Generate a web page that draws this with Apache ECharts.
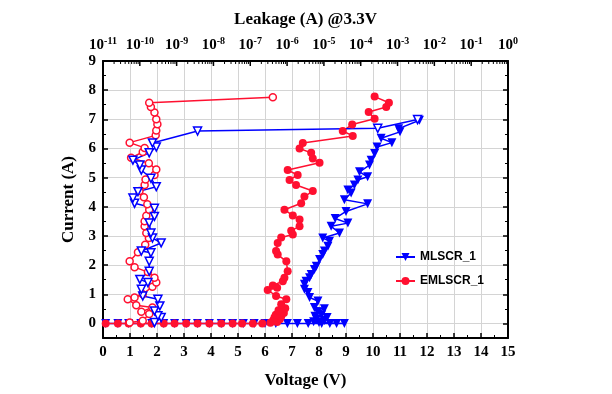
<!DOCTYPE html>
<html>
<head>
<meta charset="utf-8">
<script src="https://cdn.jsdelivr.net/npm/echarts@6/dist/echarts.min.js"></script>
<style>html,body{margin:0;padding:0;background:#fff}#c{width:612px;height:394px}</style>
</head>
<body>
<div id="c"></div>
<script>
// ---- data ----
const mlscrV = [0.1,0.55,0.95,1.4,1.8,2.25,2.65,3.08,3.5,3.94,4.38,4.8,5.2,5.6,6.0,6.4,6.83,7.2,7.6,8.1,8.4,8.65,8.94,
  8.0,7.8,8.2,7.9,8.3,7.85,8.1,7.95,8.2,7.83,7.96,7.65,7.59,7.46,7.46,7.52,7.65,7.71,7.83,7.9,8.02,8.14,8.2,8.33,8.39,8.14,8.76,8.45,9.07,8.6,9.0,9.8,8.94,9.19,9.07,9.31,9.44,9.8,9.5,9.87,9.93,10.06,10.15,10.7,10.3,11.0,10.95,11.72];
const mlscrI = [0,0,0,0,0,0,0,0,0,0,0,0,0,0,0,0,0,0,0,0,0,0,0,
  0.03,0.06,0.1,0.15,0.2,0.25,0.3,0.4,0.5,0.55,0.77,0.89,1.06,1.17,1.34,1.45,1.57,1.68,1.85,1.96,2.19,2.36,2.48,2.65,2.82,2.93,3.1,3.33,3.44,3.6,3.84,4.1,4.24,4.47,4.58,4.75,4.92,5.03,5.2,5.43,5.6,5.83,6.05,6.2,6.35,6.57,6.68,6.97];

const emlscrV = [0.1,0.55,0.95,1.4,1.8,2.25,2.65,3.08,3.5,3.94,4.38,4.8,5.15,5.55,5.9,
  6.2,6.45,6.3,6.55,6.35,6.6,6.4,6.7,6.5,6.75,6.6,6.79,6.41,6.1,6.45,6.29,6.66,6.72,6.84,6.79,6.47,6.41,6.47,6.6,7.03,6.97,7.28,7.28,7.03,6.72,7.34,7.46,7.77,7.15,6.91,7.21,6.84,8.02,7.77,7.71,7.28,7.4,9.25,8.88,9.23,10.06,9.84,10.49,10.59,10.06];
const emlscrI = [0,0,0,0,0,0,0,0,0,0,0,0,0,0,0,
  0.02,0.05,0.1,0.14,0.2,0.24,0.3,0.36,0.45,0.52,0.66,0.83,0.94,1.15,1.22,1.3,1.45,1.57,1.79,2.13,2.36,2.48,2.76,2.95,3.05,3.18,3.33,3.56,3.7,3.9,4.12,4.35,4.54,4.75,4.92,5.09,5.26,5.51,5.66,5.85,6.0,6.19,6.43,6.6,6.82,7.02,7.25,7.42,7.57,7.78];

const mlscrLeak = [2.5e-10,3.8e-10,3.1e-10,2.5e-10,3.5e-10,3.1e-10,1.2e-10,1.1e-10,1.66e-10,1.0e-10,1.8e-10,1.8e-10,2.0e-10,1.1e-10,3.8e-10,2.2e-10,2.0e-10,1.8e-10,2.5e-10,2.5e-10,7.2e-11,6.5e-11,8.9e-11,2.8e-10,2.0e-10,1.1e-10,1.0e-10,6.5e-11,1.8e-10,2.8e-10,2.2e-10,3.7e-9,2.9e-4,3.5e-3];
const mlscrLeakI = [0.03,0.2,0.26,0.43,0.6,0.83,0.94,1.17,1.4,1.51,1.79,2.13,2.42,2.48,2.76,2.93,3.1,3.44,3.67,3.95,4.12,4.3,4.52,4.69,4.98,5.26,5.43,5.6,5.85,6.05,6.19,6.6,6.69,6.99];

const emlscrLeak = [5.3e-11,1.2e-10,1.8e-10,1.1e-10,2.2e-10,8e-11,4.7e-11,7.2e-11,1.2e-10,2.2e-10,2.8e-10,2.5e-10,1.66e-10,7.2e-11,5.3e-11,8.9e-11,1.4e-10,1.76e-10,1.5e-10,1.35e-10,1.35e-10,1.5e-10,1.8e-10,1.6e-10,1.29e-10,9.8e-11,1.35e-10,1.43e-10,2.5e-10,2.8e-10,1.76e-10,5.8e-11,1.2e-10,1.35e-10,5.3e-11,2.7e-10,2.8e-10,3.0e-10,2.8e-10,2.5e-10,2.0e-10,1.8e-10,4.1e-7];
const emlscrLeakI = [0.03,0.09,0.32,0.4,0.55,0.62,0.83,0.89,1.0,1.26,1.4,1.57,1.76,1.93,2.13,2.44,2.7,2.93,3.1,3.33,3.5,3.69,3.9,4.09,4.33,4.54,4.75,4.94,5.09,5.28,5.49,5.68,5.88,6.02,6.2,6.45,6.62,6.83,7.0,7.23,7.42,7.57,7.76];

const leakDecades = [1e-11,1e-10,1e-9,1e-8,1e-7,1e-6,1e-5,1e-4,1e-3,1e-2,1e-1,1];
const legendNames = ['MLSCR_1','EMLSCR_1'];

// ---- build ----
const pairs = (a, b) => a.map((v, i) => [v, b[i]]);
const minorLeak = [];
leakDecades.slice(0, -1).forEach(d => { for (let k = 2; k <= 9; k++) minorLeak.push([d * k, 9]); });
const majorLeak = leakDecades.map(d => [d, 9]);

const SERIF = 'Liberation Serif';
const BLUE = '#0000ff', RED = '#ff1030';
const tickLabel = {fontFamily: SERIF, fontWeight: 'bold', fontSize: 15, color: '#000'};
const axisName = {fontFamily: SERIF, fontWeight: 'bold', fontSize: 17, color: '#000'};

const chart = echarts.init(document.getElementById('c'), null, {renderer: 'canvas'});
chart.setOption({
  animation: false,
  backgroundColor: '#fff',
  grid: {left: 103, right: 104, top: 61, bottom: 55},
  legend: {
    data: legendNames, left: 390, top: 246, orient: 'vertical', itemGap: 12,
    itemWidth: 19, itemHeight: 10,
    textStyle: {fontFamily: 'Liberation Sans', fontWeight: 'bold', fontSize: 12, color: '#000'}
  },
  xAxis: [{
    type: 'value', position: 'bottom', min: 0, max: 15, interval: 1,
    name: 'Voltage (V)', nameLocation: 'middle', nameGap: 34, nameTextStyle: axisName,
    axisLine: {show: true, onZero: false, lineStyle: {color: '#000', width: 2}},
    axisTick: {show: true, inside: true, length: 5, lineStyle: {color: '#000', width: 1.5}},
    minorTick: {show: true, splitNumber: 2, length: 3, lineStyle: {color: '#000', width: 1}},
    axisLabel: Object.assign({margin: 7}, tickLabel),
    splitLine: {show: true, lineStyle: {color: '#d4d4d4', width: 1}}
  }, {
    type: 'log', logBase: 10, position: 'top', min: 1e-11, max: 1,
    name: 'Leakage (A) @3.3V', nameLocation: 'middle', nameGap: 33, nameTextStyle: axisName,
    axisLine: {show: true, onZero: false, lineStyle: {color: '#000', width: 2}},
    axisTick: {show: false},
    axisLabel: {show: false},
    splitLine: {show: false}
  }],
  yAxis: [{
    type: 'value', position: 'left', min: -0.5, max: 9, splitNumber: 10,
    name: 'Current (A)', nameLocation: 'middle', nameGap: 17, nameTextStyle: axisName,
    axisLine: {show: true, onZero: false, lineStyle: {color: '#000', width: 2}},
    axisTick: {show: true, inside: true, length: 5, lineStyle: {color: '#000', width: 1.5}},
    minorTick: {show: true, splitNumber: 2, length: 3, lineStyle: {color: '#000', width: 1}},
    axisLabel: Object.assign({margin: 7, formatter: v => (Math.abs(v - Math.round(v)) < 1e-9 ? String(Math.round(v)) : '')}, tickLabel),
    splitLine: {show: true, lineStyle: {color: '#d4d4d4', width: 1}}
  }, {
    type: 'value', position: 'right', min: -0.5, max: 9, splitNumber: 10,
    axisLine: {show: true, onZero: false, lineStyle: {color: '#000', width: 2}},
    axisTick: {show: true, inside: true, length: 5, lineStyle: {color: '#000', width: 1.5}},
    minorTick: {show: true, splitNumber: 2, length: 3, lineStyle: {color: '#000', width: 1}},
    axisLabel: {show: false},
    splitLine: {show: false}
  }],
  series: [
    {
      name: 'MLSCR_1', type: 'line', xAxisIndex: 0, yAxisIndex: 0,
      data: pairs(mlscrV, mlscrI),
      symbol: 'triangle', symbolRotate: 180, symbolSize: 9,
      lineStyle: {color: BLUE, width: 1.5}, itemStyle: {color: BLUE, borderColor: BLUE, borderWidth: 0}
    },
    {
      name: 'EMLSCR_1', type: 'line', xAxisIndex: 0, yAxisIndex: 0,
      data: pairs(emlscrV, emlscrI),
      symbol: 'circle', symbolSize: 8,
      lineStyle: {color: RED, width: 1.5}, itemStyle: {color: RED, borderColor: RED, borderWidth: 0}
    },
    {
      name: 'EMLSCR_1 leakage', type: 'line', xAxisIndex: 1, yAxisIndex: 0,
      data: pairs(emlscrLeak, emlscrLeakI),
      symbol: 'circle', symbolSize: 7, showAllSymbol: true,
      lineStyle: {color: RED, width: 1.5}, itemStyle: {color: '#fff', borderColor: RED, borderWidth: 1.5}
    },
    {
      name: 'MLSCR_1 leakage', type: 'line', xAxisIndex: 1, yAxisIndex: 0,
      data: pairs(mlscrLeak, mlscrLeakI),
      symbol: 'triangle', symbolRotate: 180, symbolSize: 8, showAllSymbol: true,
      lineStyle: {color: BLUE, width: 1.5}, itemStyle: {color: '#fff', borderColor: BLUE, borderWidth: 1.5}
    },
    {
      name: 'log minor ticks', type: 'custom', xAxisIndex: 1, yAxisIndex: 0, silent: true, clip: false,
      data: minorLeak, encode: {x: 0, y: 1},
      renderItem: (params, api) => {
        const p = api.coord([api.value(0), api.value(1)]);
        return {type: 'line', shape: {x1: p[0], y1: p[1], x2: p[0], y2: p[1] + 3}, style: {stroke: '#000', lineWidth: 1}};
      }
    },
    {
      name: 'log major ticks', type: 'custom', xAxisIndex: 1, yAxisIndex: 0, silent: true, clip: false,
      data: majorLeak, encode: {x: 0, y: 1},
      renderItem: (params, api) => {
        const v = api.value(0);
        const p = api.coord([v, api.value(1)]);
        const e = Math.round(Math.log10(v));
        return {type: 'group', children: [
          {type: 'line', shape: {x1: p[0], y1: p[1], x2: p[0], y2: p[1] + 5}, style: {stroke: '#000', lineWidth: 1.5}},
          {type: 'text', x: p[0], y: p[1] - 8, style: {
            text: '{b|10}{s|' + e + '}', align: 'center', verticalAlign: 'bottom',
            rich: {
              b: {fontFamily: SERIF, fontWeight: 'bold', fontSize: 15, fill: '#000', lineHeight: 17, verticalAlign: 'bottom'},
              s: {fontFamily: SERIF, fontWeight: 'bold', fontSize: 10, fill: '#000', lineHeight: 10, verticalAlign: 'top'}
            }
          }}
        ]};
      }
    }
  ]
});
</script>
</body>
</html>
